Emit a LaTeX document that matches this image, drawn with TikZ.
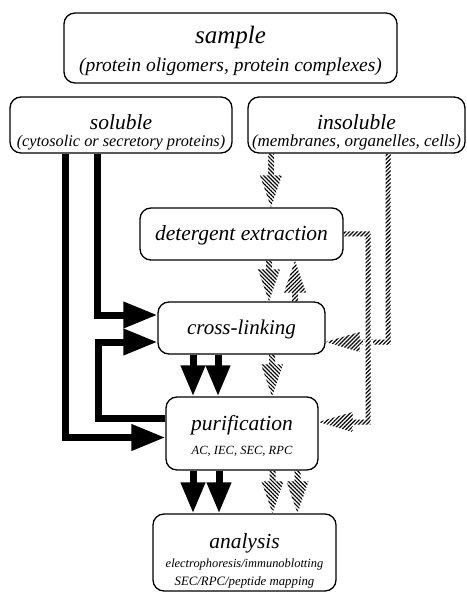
\documentclass[tikz,border=0pt]{standalone}
\usepackage{fontspec}
\setmainfont{Liberation Serif}
\usetikzlibrary{arrows.meta,patterns.meta,calc}
\newcommand\fsz[2]{\fontsize{#1}{#2}\selectfont}
\begin{document}
\begin{tikzpicture}[x=1pt,y=-1pt,
  box/.style={draw, line width=1.3pt, rounded corners=11pt, inner sep=0pt, align=center},
  blk/.style={line width=7pt, line join=miter, -{Triangle[length=34pt,width=25pt]}},
  blkd/.style={line width=7pt, -{Triangle[length=31pt,width=23pt]}},
  hatchA/.style={pattern={Lines[angle=-45,distance=2.8pt,line width=1.2pt]}},
  hatchB/.style={pattern={Lines[angle=45,distance=2.8pt,line width=1.2pt]}}]
\useasboundingbox (0,0) rectangle (466,593);

% boxes
\node[box, minimum width=333, minimum height=70, font=\itshape\fsz{19.5}{28}] (sample) at (230.5,48)
  {\fsz{25}{28}\rule{0pt}{24pt}sample\\\fsz{19.5}{28}(protein oligomers, protein complexes)};
\node[box, minimum width=222, minimum height=56, font=\itshape\fsz{16.3}{17}] (sol) at (121,125)
  {\fsz{21.5}{17}\rule{0pt}{29pt}soluble\\\fsz{16.3}{17}(cytosolic or secretory proteins)};
\node[box, minimum width=217, minimum height=56, font=\itshape\fsz{17}{17}] (ins) at (356.5,125)
  {\fsz{21.5}{17}\rule{0pt}{29pt}insoluble\\\fsz{17}{17}(membranes, organelles, cells)};
\node[box, minimum width=203, minimum height=52, font=\itshape\fsz{21.5}{24}] (det) at (241.5,234)
  {\rule{0pt}{18pt}detergent extraction};
\node[box, minimum width=167, minimum height=52, font=\itshape\fsz{21}{24}] (cross) at (241.5,328)
  {\rule{0pt}{18pt}cross-linking};
\node[box, minimum width=152, minimum height=73, font=\itshape\fsz{12.5}{24}] (pur) at (242,433.5)
  {\fsz{21.5}{24}\rule{0pt}{20pt}purification\\\fsz{12.5}{24}AC, IEC, SEC, RPC};
\node[box, minimum width=183, minimum height=77, font=\itshape\fsz{12.5}{17.5}] (ana) at (244.5,552.5)
  {\fsz{21.5}{20}\rule{0pt}{31pt}analysis\\[2pt]\fsz{12.4}{17.5}electrophoresis/immunoblotting\\\fsz{12.8}{17.5}SEC/RPC/peptide mapping};

% black connectors
\coordinate (c1) at ($(cross.west)+(0,-13)$);
\coordinate (c2) at ($(cross.west)+(0,14)$);
\coordinate (p1) at ($(pur.west)+(0,4)$);
\coordinate (p2) at ($(pur.west)+(0,-15.5)$);
\draw[blk] (sol.south -| 97,0) |- (c1);
\draw[blk] (sol.south -| 65,0) |- (p1);
\draw[blk] (p2) -| (c2 -| 98,0) -- (c2);
\draw[blkd] (cross.south -| 193,0) -- (pur.north -| 193,0);
\draw[blkd] (cross.south -| 218,0) -- (pur.north -| 218,0);
\draw[blkd] (pur.south -| 193,0) -- (ana.north -| 193,0);
\draw[blkd] (pur.south -| 219,0) -- (ana.north -| 219,0);

% hatched connectors (vertical)
\newcommand\hdown[4]{%
  \coordinate (hs) at (#2.south -| #1,0);
  \coordinate (ht) at (#3.north -| #1,0);
  \path[#4] ($(hs)+(-3,0)$) -- ($(hs)+(3,0)$) -- ($(ht)+(3,-32)$) -- ($(ht)+(11,-32)$)
    -- (ht) -- ($(ht)+(-11,-32)$) -- ($(ht)+(-3,-32)$) -- cycle;}
\newcommand\hup[4]{%
  \coordinate (hs) at (#2.north -| #1,0);
  \coordinate (ht) at (#3.south -| #1,0);
  \path[#4] ($(hs)+(-3,0)$) -- ($(hs)+(3,0)$) -- ($(ht)+(3,32)$) -- ($(ht)+(11,32)$)
    -- (ht) -- ($(ht)+(-11,32)$) -- ($(ht)+(-3,32)$) -- cycle;}
\hdown{271}{ins}{det}{hatchA}
\hdown{269}{det}{cross}{hatchA}
\hup{295}{cross}{det}{hatchB}
\hdown{272}{cross}{pur}{hatchA}
\hdown{272.5}{pur}{ana}{hatchA}
\hdown{297.5}{pur}{ana}{hatchA}

% hatched L-shaped connectors
\coordinate (i1) at (ins.south -| 388,0);
\coordinate (ct) at ($(cross.east)+(0,14)$);
\path[hatchB] ($(i1)+(-2.5,0)$) -- ($(i1)+(2.5,0)$) -- ($(i1 |- ct)+(2.5,2.5)$)
  -- ($(ct)+(34,2.5)$) -- ($(ct)+(34,10)$) -- (ct) -- ($(ct)+(34,-10)$)
  -- ($(ct)+(34,-2.5)$) -- ($(i1 |- ct)+(-2.5,-2.5)$) -- cycle;
\coordinate (d1) at (det.east);
\coordinate (pt) at ($(pur.east)+(0,-11.5)$);
\fill[white] ($(d1 -| 368,0)+(-5,106)$) rectangle ($(d1 -| 368,0)+(5,114)$);
\path[hatchB] ($(d1)+(0,-2.5)$) -- ($(d1 -| 368,0)+(2.5,-2.5)$) -- ($(pt -| 368,0)+(2.5,2.5)$)
  -- ($(pt)+(34,2.5)$) -- ($(pt)+(34,10)$) -- (pt) -- ($(pt)+(34,-10)$)
  -- ($(pt)+(34,-2.5)$) -- ($(pt -| 368,0)+(-2.5,-2.5)$) -- ($(d1 -| 368,0)+(-2.5,2.5)$)
  -- ($(d1)+(0,2.5)$) -- cycle;
\end{tikzpicture}
\end{document}
